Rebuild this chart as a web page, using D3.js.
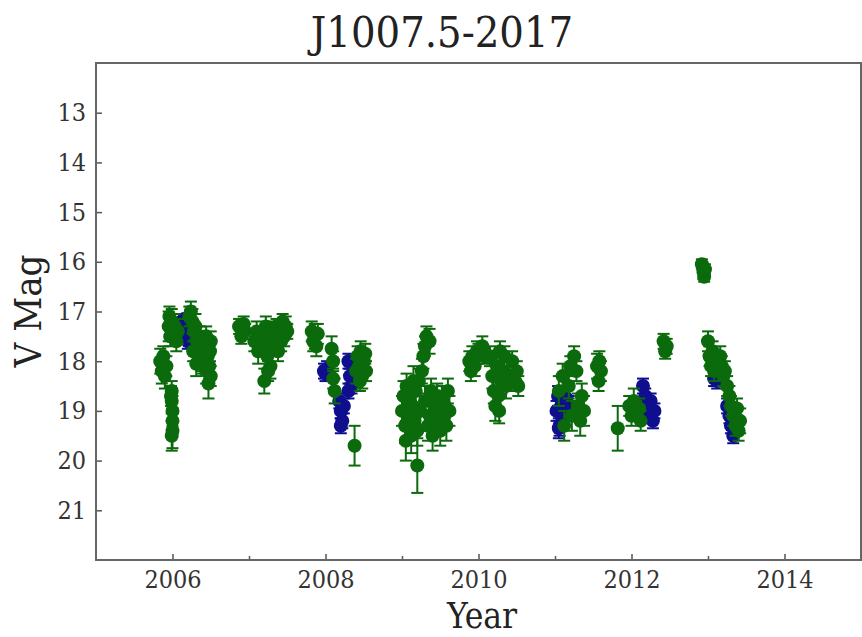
<!DOCTYPE html>
<html>
<head>
<meta charset="utf-8">
<script src="https://cdn.jsdelivr.net/npm/d3@7"></script>
<style>
  body { margin: 0; background: #fff; }
  text { font-family: "DejaVu Serif Condensed", "DejaVu Serif", serif; font-stretch: condensed; fill: #222; }
</style>
</head>
<body>
<div id="chart"></div>
<script>

// green photometry (year, V mag, error)
var greenYear = [2005.84,2005.86,2005.88,2005.90,2005.92,2005.95,2005.96,2005.97,2005.99,2006.01,2006.03,2006.05,2006.07,
  2005.99,2005.99,2006.00,2006.00,2006.00,2005.98,2005.99,
  2006.22,2006.24,2006.26,2006.28,2006.30,2006.32,2006.34,2006.36,2006.38,2006.40,2006.42,2006.44,2006.46,2006.48,2006.47,2006.50,2006.50,2006.27,2006.31,2006.44,2006.49,
  2006.87,2006.90,2006.93,2006.95,2006.90,
  2007.07,2007.10,2007.12,2007.15,2007.18,2007.20,2007.22,2007.24,2007.26,2007.28,2007.30,2007.32,2007.34,2007.36,2007.38,2007.40,2007.42,2007.44,2007.46,2007.48,2007.50,2007.25,
  2007.82,2007.84,2007.86,2007.88,2007.90,
  2008.08,2008.10,2008.10,2008.12,
  2008.38,
  2008.40,2008.42,2008.44,2008.46,2008.48,2008.50,2008.52,2008.45,2008.53,
  2009.00,2009.02,2009.04,2009.06,2009.08,2009.10,2009.12,2009.14,2009.16,2009.18,2009.20,2009.20,2009.22,2009.24,2009.26,2009.28,2009.30,2009.32,2009.30,2009.34,2009.36,2009.36,2009.38,2009.40,2009.42,2009.44,2009.46,2009.48,2009.50,2009.52,2009.54,2009.56,2009.58,2009.60,2009.62,2009.05,2009.15,
  2009.88,2009.90,2009.92,2009.95,2009.98,2010.00,2010.05,2010.08,
  2010.15,2010.18,2010.20,2010.22,2010.24,2010.26,2010.28,2010.30,2010.32,2010.34,2010.36,2010.40,2010.44,2010.48,2010.50,2010.52,2010.27,
  2011.05,2011.10,2011.12,2011.18,2011.20,2011.22,2011.25,2011.28,2011.30,2011.33,2011.35,2011.38,2011.55,2011.57,2011.60,2011.58,
  2011.82,
  2011.97,2012.00,2012.03,2012.06,2012.10,2012.12,
  2012.42,2012.44,2012.46,
  2012.92,2012.94,2012.95,2012.96,
  2013.00,2013.02,2013.04,2013.06,2013.08,
  2013.16,2013.18,2013.20,2013.22,2013.25,2013.28,2013.30,2013.33,2013.36,2013.38,2013.40,2013.42];
var greenMag = [18.0,18.2,17.9,18.3,18.1,17.3,17.1,17.5,17.2,17.4,17.3,17.6,17.4,
  18.6,18.8,19.0,19.2,19.4,18.7,19.5,
  17.1,17.0,17.2,17.4,17.3,17.6,17.8,17.5,17.9,18.0,17.7,18.2,17.9,18.1,18.45,17.6,18.3,17.8,18.05,17.5,17.8,
  17.3,17.35,17.25,17.4,17.5,
  17.6,17.4,17.8,17.5,17.7,18.4,17.3,17.9,17.6,18.1,17.4,17.7,17.5,17.3,17.8,17.4,17.6,17.2,17.5,17.3,17.4,18.2,
  17.4,17.6,17.5,17.7,17.45,
  17.75,18.0,18.35,18.6,
  19.7,
  18.2,17.9,18.1,17.8,18.3,18.0,17.85,18.4,18.2,
  19.0,18.7,19.3,18.5,19.1,18.8,19.5,18.9,19.2,18.6,19.4,20.1,18.4,19.0,18.2,17.9,17.7,17.5,18.8,19.3,17.6,19.1,18.6,19.5,18.9,19.2,18.7,19.0,19.4,18.8,19.1,18.9,19.3,18.6,19.0,19.6,18.4,
  18.0,18.2,17.9,18.1,17.8,17.85,17.7,17.9,
  17.9,18.3,18.6,18.9,18.1,18.7,17.8,18.4,18.2,17.9,18.5,18.3,18.0,18.4,18.2,18.5,19.0,
  18.6,18.3,19.3,18.5,18.1,19.1,17.9,18.2,18.9,19.2,18.7,19.0,18.1,18.4,18.2,18.0,
  19.35,
  18.9,19.1,18.8,19.0,18.95,19.2,
  17.6,17.8,17.7,
  16.05,16.2,16.3,16.15,
  17.6,17.9,18.1,17.8,18.2,
  17.9,18.1,18.3,18.2,18.5,18.7,18.9,19.1,19.3,18.95,19.4,19.2];
var greenErr = [0.25,0.25,0.2,0.25,0.2,0.3,0.2,0.2,0.25,0.2,0.25,0.2,0.25,
  0.2,0.25,0.3,0.25,0.35,0.2,0.3,
  0.2,0.2,0.25,0.2,0.25,0.2,0.25,0.2,0.3,0.25,0.2,0.25,0.2,0.25,0.3,0.2,0.2,0.2,0.25,0.2,0.2,
  0.15,0.15,0.15,0.15,0.15,
  0.2,0.2,0.25,0.2,0.2,0.25,0.2,0.25,0.2,0.25,0.2,0.2,0.2,0.15,0.2,0.2,0.2,0.15,0.2,0.2,0.15,0.2,
  0.2,0.2,0.25,0.2,0.2,
  0.25,0.2,0.2,0.25,
  0.4,
  0.25,0.2,0.2,0.2,0.25,0.2,0.2,0.2,0.2,
  0.3,0.3,0.35,0.25,0.3,0.3,0.35,0.3,0.3,0.3,0.3,0.55,0.25,0.3,0.25,0.25,0.2,0.2,0.3,0.3,0.25,0.3,0.25,0.3,0.3,0.3,0.25,0.3,0.3,0.3,0.3,0.25,0.3,0.25,0.3,0.4,0.3,
  0.2,0.2,0.2,0.2,0.2,0.2,0.2,0.15,
  0.2,0.25,0.25,0.3,0.2,0.3,0.2,0.25,0.2,0.2,0.25,0.2,0.2,0.2,0.2,0.2,0.25,
  0.3,0.25,0.3,0.25,0.2,0.3,0.2,0.2,0.25,0.3,0.25,0.3,0.25,0.2,0.2,0.2,
  0.45,
  0.2,0.2,0.25,0.2,0.2,0.2,
  0.15,0.15,0.15,
  0.1,0.15,0.1,0.1,
  0.2,0.2,0.2,0.2,0.2,
  0.2,0.2,0.2,0.2,0.2,0.2,0.2,0.2,0.2,0.2,0.2,0.25];

// blue photometry (year, V mag, error)
var blueYear = [2006.12,2006.14,2006.16,2006.18,2006.20,2006.15,
  2007.98,2008.00,2008.02,
  2008.18,2008.20,2008.22,2008.20,2008.24,
  2008.30,2008.32,2008.34,2008.30,
  2011.02,2011.04,2011.06,2011.08,2011.10,2011.12,2011.15,2011.18,2011.05,
  2012.15,2012.18,2012.20,2012.22,2012.25,2012.28,2012.30,
  2013.08,2013.12,
  2013.25,2013.28,2013.30,2013.33,2013.35];
var blueMag = [17.2,17.4,17.5,17.3,17.6,17.15,
  18.2,18.25,18.15,
  18.8,19.0,19.2,19.3,18.9,
  18.0,18.3,18.5,18.6,
  19.0,18.7,19.3,18.9,18.8,19.1,18.75,18.9,19.35,
  18.5,18.7,18.9,19.1,18.8,19.2,19.0,
  18.35,18.4,
  18.9,19.1,19.3,19.5,19.2];
var blueErr = [0.15,0.15,0.15,0.15,0.15,0.1,
  0.15,0.15,0.15,
  0.15,0.15,0.15,0.15,0.15,
  0.15,0.15,0.15,0.15,
  0.2,0.2,0.2,0.2,0.2,0.2,0.2,0.2,0.2,
  0.15,0.15,0.15,0.15,0.15,0.15,0.15,
  0.15,0.15,
  0.15,0.15,0.15,0.15,0.15];

var xTicks = [2006, 2008, 2010, 2012, 2014];
var xMinorTicks = [2007, 2009, 2011, 2013];
var yTicks = [13, 14, 15, 16, 17, 18, 19, 20, 21];

var margin = {top: 63, right: 1, bottom: 77, left: 96};
var width = 862 - margin.left - margin.right,
    height = 637 - margin.top - margin.bottom;

var svg = d3.select("#chart").append("svg")
    .attr("width", 862)
    .attr("height", 637);

var g = svg.append("g")
    .attr("transform", "translate(" + margin.left + "," + margin.top + ")");

var x = d3.scaleLinear().domain([2005, 2015]).range([0, width]);
var y = d3.scaleLinear().domain([12, 22]).range([0, height]);

function series(years, mags, errs) {
    return years.map(function(d, i) { return {year: d, mag: mags[i], err: errs[i]}; });
}

function drawSeries(data, colour) {
    var s = g.append("g").attr("class", "series");
    var eb = s.selectAll("g.eb").data(data).enter().append("g").attr("class", "eb")
        .style("stroke", colour).style("stroke-width", "2px");
    eb.append("line")
        .attr("x1", function(d) { return x(d.year); })
        .attr("x2", function(d) { return x(d.year); })
        .attr("y1", function(d) { return y(d.mag - d.err); })
        .attr("y2", function(d) { return y(d.mag + d.err); });
    eb.append("line")
        .attr("x1", function(d) { return x(d.year) - 6; })
        .attr("x2", function(d) { return x(d.year) + 6; })
        .attr("y1", function(d) { return y(d.mag - d.err); })
        .attr("y2", function(d) { return y(d.mag - d.err); });
    eb.append("line")
        .attr("x1", function(d) { return x(d.year) - 6; })
        .attr("x2", function(d) { return x(d.year) + 6; })
        .attr("y1", function(d) { return y(d.mag + d.err); })
        .attr("y2", function(d) { return y(d.mag + d.err); });
    s.selectAll("circle").data(data).enter().append("circle")
        .attr("cx", function(d) { return x(d.year); })
        .attr("cy", function(d) { return y(d.mag); })
        .attr("r", 7)
        .style("fill", colour);
}

drawSeries(series(blueYear, blueMag, blueErr), "#0e0e8e");
drawSeries(series(greenYear, greenMag, greenErr), "#0b6a0b");

// axes, ticks inward
g.append("g")
    .attr("transform", "translate(0," + height + ")")
    .call(d3.axisBottom(x).tickValues(xTicks).tickSize(-6).tickPadding(10).tickFormat(d3.format("d")));
g.append("g")
    .attr("transform", "translate(0," + height + ")")
    .call(d3.axisBottom(x).tickValues(xMinorTicks).tickSize(-4).tickFormat(""));
g.append("g")
    .call(d3.axisLeft(y).tickValues(yTicks).tickSize(-6).tickPadding(10));

svg.selectAll(".tick line").style("stroke", "#555").style("stroke-width", "1.5px");
svg.selectAll(".domain").remove();
svg.selectAll(".tick text").style("font-size", "25px").style("fill", "#333");

// frame
g.append("rect")
    .attr("width", width).attr("height", height)
    .style("fill", "none").style("stroke", "#666").style("stroke-width", "2px");

svg.append("text")
    .attr("x", 442).attr("y", 47)
    .attr("text-anchor", "middle")
    .style("font-size", "43px")
    .text("J1007.5-2017");

svg.append("text")
    .attr("x", 482).attr("y", 628)
    .attr("text-anchor", "middle")
    .style("font-size", "35px")
    .text("Year");

svg.append("text")
    .attr("transform", "translate(41,311)rotate(-90)")
    .attr("text-anchor", "middle")
    .style("font-size", "38px")
    .text("V Mag");

</script>
</body>
</html>
